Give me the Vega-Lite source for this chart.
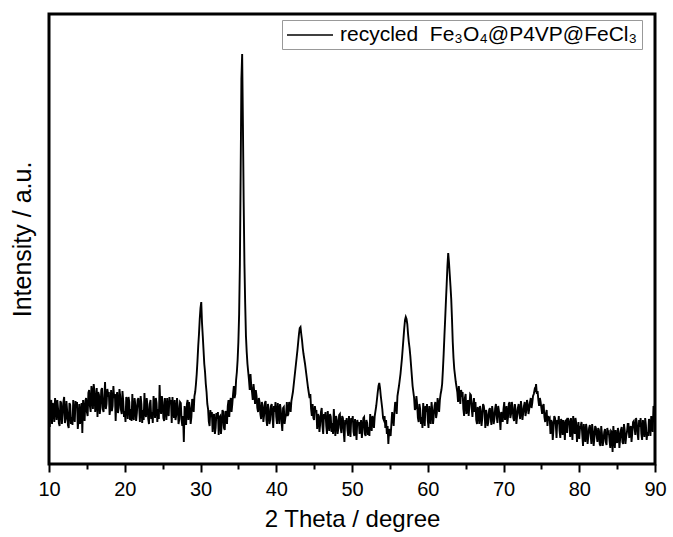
{
  "$schema": "https://vega.github.io/schema/vega-lite/v6.json",
  "width": 606,
  "height": 450,
  "autosize": "none",
  "padding": {"left": 49, "top": 14, "right": 18, "bottom": 73},
  "config": {
    "view": {"stroke": "black", "strokeWidth": 3},
    "font": "Liberation Sans",
    "background": "white"
  },
  "data": {"values": [
    {"x":10.0,"y":48},{"x":10.2,"y":62},{"x":10.4,"y":40},{"x":10.6,"y":57},{"x":10.8,"y":66},{"x":11.0,"y":44},{"x":11.2,"y":55},{"x":11.4,"y":38},{"x":11.6,"y":61},{"x":11.8,"y":50},
    {"x":12.0,"y":67},{"x":12.2,"y":45},{"x":12.4,"y":53},{"x":12.6,"y":36},{"x":12.8,"y":59},{"x":13.0,"y":47},{"x":13.2,"y":64},{"x":13.4,"y":42},{"x":13.6,"y":56},{"x":13.8,"y":35},
    {"x":14.0,"y":60},{"x":14.2,"y":49},{"x":14.4,"y":31},{"x":14.6,"y":54},{"x":14.8,"y":63},{"x":15.0,"y":52},{"x":15.2,"y":71},{"x":15.4,"y":58},{"x":15.6,"y":78},{"x":15.8,"y":55},
    {"x":16.0,"y":73},{"x":16.2,"y":61},{"x":16.4,"y":47},{"x":16.6,"y":69},{"x":16.8,"y":57},{"x":17.0,"y":76},{"x":17.2,"y":52},{"x":17.4,"y":82},{"x":17.6,"y":60},{"x":17.8,"y":70},
    {"x":18.0,"y":49},{"x":18.2,"y":74},{"x":18.4,"y":58},{"x":18.6,"y":66},{"x":18.8,"y":43},{"x":19.0,"y":72},{"x":19.2,"y":56},{"x":19.4,"y":68},{"x":19.6,"y":50},{"x":19.8,"y":63},
    {"x":20.0,"y":53},{"x":20.2,"y":67},{"x":20.4,"y":45},{"x":20.6,"y":62},{"x":20.8,"y":55},{"x":21.0,"y":70},{"x":21.2,"y":44},{"x":21.4,"y":59},{"x":21.6,"y":51},{"x":21.8,"y":66},
    {"x":22.0,"y":42},{"x":22.2,"y":60},{"x":22.4,"y":54},{"x":22.6,"y":71},{"x":22.8,"y":47},{"x":23.0,"y":58},{"x":23.2,"y":40},{"x":23.4,"y":64},{"x":23.6,"y":52},{"x":23.8,"y":68},
    {"x":24.0,"y":46},{"x":24.2,"y":61},{"x":24.4,"y":55},{"x":24.6,"y":79},{"x":24.8,"y":50},{"x":25.0,"y":62},{"x":25.2,"y":43},{"x":25.4,"y":57},{"x":25.6,"y":66},{"x":25.8,"y":48},
    {"x":26.0,"y":60},{"x":26.2,"y":41},{"x":26.4,"y":55},{"x":26.6,"y":64},{"x":26.8,"y":49},{"x":27.0,"y":58},{"x":27.2,"y":45},{"x":27.4,"y":61},{"x":27.6,"y":38},{"x":27.8,"y":22},
    {"x":28.0,"y":52},{"x":28.2,"y":60},{"x":28.4,"y":44},{"x":28.6,"y":56},{"x":28.8,"y":47},{"x":29.0,"y":63},{"x":29.2,"y":68},{"x":29.4,"y":80},{"x":29.5,"y":90},{"x":29.6,"y":103},
    {"x":29.7,"y":118},{"x":29.8,"y":130},{"x":29.9,"y":145},{"x":30.0,"y":156},{"x":30.1,"y":162},{"x":30.2,"y":141},{"x":30.3,"y":128},{"x":30.4,"y":114},{"x":30.5,"y":100},{"x":30.6,"y":92},
    {"x":30.7,"y":80},{"x":30.8,"y":72},{"x":31.0,"y":55},{"x":31.2,"y":38},{"x":31.4,"y":47},{"x":31.6,"y":32},{"x":31.8,"y":50},{"x":32.0,"y":36},{"x":32.2,"y":45},{"x":32.4,"y":29},
    {"x":32.6,"y":48},{"x":32.8,"y":39},{"x":33.0,"y":52},{"x":33.2,"y":34},{"x":33.4,"y":50},{"x":33.6,"y":58},{"x":33.8,"y":47},{"x":34.0,"y":66},{"x":34.2,"y":60},{"x":34.4,"y":78},
    {"x":34.6,"y":70},{"x":34.8,"y":92},{"x":34.9,"y":104},{"x":35.0,"y":122},{"x":35.1,"y":150},{"x":35.2,"y":200},{"x":35.3,"y":290},{"x":35.4,"y":385},{"x":35.5,"y":410},{"x":35.6,"y":340},
    {"x":35.7,"y":262},{"x":35.8,"y":200},{"x":35.9,"y":160},{"x":36.0,"y":128},{"x":36.1,"y":112},{"x":36.2,"y":100},{"x":36.3,"y":92},{"x":36.4,"y":84},{"x":36.6,"y":90},{"x":36.8,"y":72},
    {"x":37.0,"y":80},{"x":37.2,"y":60},{"x":37.4,"y":68},{"x":37.6,"y":52},{"x":37.8,"y":62},{"x":38.0,"y":45},{"x":38.2,"y":58},{"x":38.4,"y":49},{"x":38.6,"y":63},{"x":38.8,"y":38},
    {"x":39.0,"y":55},{"x":39.2,"y":44},{"x":39.4,"y":60},{"x":39.6,"y":36},{"x":39.8,"y":52},{"x":40.0,"y":47},{"x":40.2,"y":61},{"x":40.4,"y":40},{"x":40.6,"y":54},{"x":40.8,"y":33},
    {"x":41.0,"y":57},{"x":41.2,"y":46},{"x":41.4,"y":62},{"x":41.6,"y":50},{"x":41.8,"y":58},{"x":42.0,"y":63},{"x":42.2,"y":72},{"x":42.4,"y":86},{"x":42.6,"y":100},{"x":42.8,"y":114},
    {"x":42.9,"y":122},{"x":43.0,"y":130},{"x":43.1,"y":136},{"x":43.2,"y":137},{"x":43.3,"y":130},{"x":43.4,"y":124},{"x":43.5,"y":116},{"x":43.6,"y":110},{"x":43.8,"y":100},{"x":44.0,"y":88},
    {"x":44.2,"y":76},{"x":44.4,"y":66},{"x":44.6,"y":55},{"x":44.8,"y":60},{"x":45.0,"y":44},{"x":45.2,"y":52},{"x":45.4,"y":35},{"x":45.6,"y":48},{"x":45.8,"y":40},{"x":46.0,"y":56},
    {"x":46.2,"y":30},{"x":46.4,"y":45},{"x":46.6,"y":38},{"x":46.8,"y":53},{"x":47.0,"y":33},{"x":47.2,"y":47},{"x":47.4,"y":41},{"x":47.6,"y":55},{"x":47.8,"y":28},{"x":48.0,"y":44},
    {"x":48.2,"y":36},{"x":48.4,"y":50},{"x":48.6,"y":31},{"x":48.8,"y":46},{"x":49.0,"y":22},{"x":49.2,"y":40},{"x":49.4,"y":34},{"x":49.6,"y":48},{"x":49.8,"y":27},{"x":50.0,"y":42},
    {"x":50.2,"y":32},{"x":50.4,"y":45},{"x":50.6,"y":24},{"x":50.8,"y":39},{"x":51.0,"y":30},{"x":51.2,"y":44},{"x":51.4,"y":35},{"x":51.6,"y":47},{"x":51.8,"y":28},{"x":52.0,"y":41},
    {"x":52.2,"y":37},{"x":52.4,"y":50},{"x":52.6,"y":33},{"x":52.8,"y":45},{"x":53.0,"y":48},{"x":53.2,"y":58},{"x":53.4,"y":72},{"x":53.5,"y":78},{"x":53.6,"y":81},{"x":53.7,"y":76},
    {"x":53.8,"y":68},{"x":54.0,"y":55},{"x":54.2,"y":44},{"x":54.4,"y":36},{"x":54.6,"y":30},{"x":54.8,"y":20},{"x":55.0,"y":33},{"x":55.2,"y":40},{"x":55.4,"y":46},{"x":55.6,"y":52},
    {"x":55.8,"y":58},{"x":56.0,"y":68},{"x":56.2,"y":78},{"x":56.4,"y":90},{"x":56.6,"y":106},{"x":56.7,"y":116},{"x":56.8,"y":126},{"x":56.9,"y":136},{"x":57.0,"y":144},{"x":57.1,"y":147},
    {"x":57.2,"y":145},{"x":57.3,"y":140},{"x":57.4,"y":130},{"x":57.5,"y":122},{"x":57.6,"y":116},{"x":57.7,"y":108},{"x":57.9,"y":88},{"x":58.0,"y":78},{"x":58.2,"y":66},{"x":58.4,"y":56},
    {"x":58.6,"y":60},{"x":58.8,"y":42},{"x":59.0,"y":55},{"x":59.2,"y":47},{"x":59.4,"y":61},{"x":59.6,"y":38},{"x":59.8,"y":52},{"x":60.0,"y":44},{"x":60.2,"y":58},{"x":60.4,"y":40},
    {"x":60.6,"y":54},{"x":60.8,"y":49},{"x":61.0,"y":62},{"x":61.2,"y":51},{"x":61.4,"y":60},{"x":61.6,"y":64},{"x":61.8,"y":74},{"x":61.9,"y":80},{"x":62.0,"y":94},{"x":62.1,"y":110},
    {"x":62.2,"y":128},{"x":62.3,"y":145},{"x":62.4,"y":163},{"x":62.5,"y":180},{"x":62.6,"y":198},{"x":62.7,"y":211},{"x":62.8,"y":202},{"x":62.9,"y":190},{"x":63.0,"y":178},{"x":63.1,"y":165},
    {"x":63.2,"y":145},{"x":63.3,"y":122},{"x":63.4,"y":106},{"x":63.5,"y":95},{"x":63.7,"y":82},{"x":63.9,"y":72},{"x":64.1,"y":78},{"x":64.3,"y":60},{"x":64.5,"y":70},{"x":64.7,"y":55},
    {"x":64.9,"y":66},{"x":65.1,"y":50},{"x":65.3,"y":64},{"x":65.5,"y":58},{"x":65.7,"y":69},{"x":65.9,"y":47},{"x":66.0,"y":60},{"x":66.2,"y":52},{"x":66.4,"y":44},{"x":66.6,"y":57},
    {"x":66.8,"y":40},{"x":67.0,"y":53},{"x":67.2,"y":46},{"x":67.4,"y":58},{"x":67.6,"y":36},{"x":67.8,"y":50},{"x":68.0,"y":42},{"x":68.2,"y":56},{"x":68.4,"y":39},{"x":68.6,"y":52},
    {"x":68.8,"y":45},{"x":69.0,"y":60},{"x":69.2,"y":41},{"x":69.4,"y":53},{"x":69.6,"y":34},{"x":69.8,"y":49},{"x":70.0,"y":55},{"x":70.2,"y":44},{"x":70.4,"y":58},{"x":70.6,"y":47},
    {"x":70.8,"y":62},{"x":71.0,"y":50},{"x":71.2,"y":57},{"x":71.4,"y":43},{"x":71.6,"y":54},{"x":71.8,"y":48},{"x":72.0,"y":60},{"x":72.2,"y":45},{"x":72.4,"y":56},{"x":72.6,"y":51},
    {"x":72.8,"y":62},{"x":73.0,"y":53},{"x":73.2,"y":60},{"x":73.4,"y":55},{"x":73.6,"y":66},{"x":73.8,"y":61},{"x":74.0,"y":70},{"x":74.1,"y":74},{"x":74.2,"y":72},{"x":74.3,"y":80},
    {"x":74.4,"y":70},{"x":74.5,"y":73},{"x":74.6,"y":64},{"x":74.8,"y":66},{"x":75.0,"y":56},{"x":75.2,"y":58},{"x":75.4,"y":47},{"x":75.6,"y":50},{"x":75.8,"y":38},{"x":76.0,"y":45},
    {"x":76.2,"y":30},{"x":76.4,"y":42},{"x":76.6,"y":35},{"x":76.8,"y":46},{"x":77.0,"y":26},{"x":77.2,"y":40},{"x":77.4,"y":33},{"x":77.6,"y":45},{"x":77.8,"y":29},{"x":78.0,"y":38},
    {"x":78.2,"y":43},{"x":78.4,"y":31},{"x":78.6,"y":44},{"x":78.8,"y":27},{"x":79.0,"y":37},{"x":79.2,"y":48},{"x":79.4,"y":30},{"x":79.6,"y":41},{"x":79.8,"y":33},{"x":80.0,"y":25},
    {"x":80.2,"y":38},{"x":80.4,"y":29},{"x":80.6,"y":40},{"x":80.8,"y":22},{"x":81.0,"y":35},{"x":81.2,"y":28},{"x":81.4,"y":39},{"x":81.6,"y":20},{"x":81.8,"y":33},{"x":82.0,"y":26},
    {"x":82.2,"y":36},{"x":82.4,"y":22},{"x":82.6,"y":34},{"x":82.8,"y":18},{"x":83.0,"y":30},{"x":83.2,"y":24},{"x":83.4,"y":35},{"x":83.6,"y":19},{"x":83.8,"y":31},{"x":84.0,"y":23},
    {"x":84.2,"y":33},{"x":84.4,"y":12},{"x":84.6,"y":27},{"x":84.8,"y":34},{"x":85.0,"y":21},{"x":85.2,"y":32},{"x":85.4,"y":25},{"x":85.6,"y":37},{"x":85.8,"y":20},{"x":86.0,"y":34},
    {"x":86.2,"y":28},{"x":86.4,"y":40},{"x":86.6,"y":26},{"x":86.8,"y":38},{"x":87.0,"y":31},{"x":87.2,"y":43},{"x":87.4,"y":29},{"x":87.6,"y":41},{"x":87.8,"y":24},{"x":88.0,"y":37},
    {"x":88.2,"y":30},{"x":88.4,"y":44},{"x":88.6,"y":27},{"x":88.8,"y":39},{"x":89.0,"y":32},{"x":89.2,"y":45},{"x":89.4,"y":28},{"x":89.6,"y":40},{"x":89.8,"y":58},{"x":90.0,"y":62},
    {"x":10.1,"y":37},{"x":10.3,"y":64},{"x":10.5,"y":61},{"x":10.7,"y":42},{"x":10.9,"y":58},{"x":11.1,"y":64},{"x":11.3,"y":41},{"x":11.5,"y":63},{"x":11.7,"y":40},{"x":11.9,"y":62},
    {"x":12.1,"y":41},{"x":12.3,"y":63},{"x":12.5,"y":39},{"x":12.7,"y":61},{"x":12.9,"y":40},{"x":13.1,"y":39},{"x":13.3,"y":48},{"x":13.5,"y":63},{"x":13.7,"y":62},{"x":13.9,"y":44},
    {"x":14.1,"y":40},{"x":14.3,"y":61},{"x":14.5,"y":64},{"x":14.7,"y":43},{"x":14.9,"y":66},
    {"x":15.1,"y":48},{"x":15.3,"y":74},{"x":15.5,"y":52},{"x":15.7,"y":70},{"x":15.9,"y":80},{"x":16.1,"y":52},{"x":16.3,"y":76},{"x":16.5,"y":72},{"x":16.7,"y":50},{"x":16.9,"y":74},
    {"x":17.1,"y":55},{"x":17.3,"y":66},{"x":17.5,"y":55},{"x":17.7,"y":75},{"x":17.9,"y":72},{"x":18.1,"y":56},{"x":18.3,"y":53},{"x":18.5,"y":78},{"x":18.7,"y":70},{"x":18.9,"y":66},
    {"x":19.1,"y":51},{"x":19.3,"y":75},{"x":19.5,"y":54},{"x":19.7,"y":73},{"x":19.9,"y":47},
    {"x":20.1,"y":42},{"x":20.3,"y":63},{"x":20.5,"y":67},{"x":20.7,"y":44},{"x":20.9,"y":43},{"x":21.1,"y":48},{"x":21.3,"y":66},{"x":21.5,"y":43},{"x":21.7,"y":64},{"x":21.9,"y":57},
    {"x":22.1,"y":68},{"x":22.3,"y":41},{"x":22.5,"y":44},{"x":22.7,"y":52},{"x":22.9,"y":66},{"x":23.1,"y":45},{"x":23.3,"y":60},{"x":23.5,"y":45},{"x":23.7,"y":41},{"x":23.9,"y":60},
    {"x":24.1,"y":66},{"x":24.3,"y":42},{"x":24.5,"y":45},{"x":24.7,"y":58},{"x":24.9,"y":68},{"x":25.1,"y":46},{"x":25.3,"y":66},{"x":25.5,"y":44},{"x":25.7,"y":53},{"x":25.9,"y":67},
    {"x":26.1,"y":64},{"x":26.3,"y":67},{"x":26.5,"y":46},{"x":26.7,"y":44},{"x":26.9,"y":66},
    {"x":27.1,"y":40},{"x":27.3,"y":62},{"x":27.5,"y":44},{"x":27.7,"y":48},{"x":27.9,"y":58},{"x":28.1,"y":39},{"x":28.3,"y":64},{"x":28.5,"y":62},{"x":28.7,"y":40},{"x":28.9,"y":65},
    {"x":29.1,"y":52},{"x":29.3,"y":72},
    {"x":30.9,"y":60},{"x":31.1,"y":42},{"x":31.3,"y":54},{"x":31.5,"y":52},{"x":31.7,"y":48},{"x":31.9,"y":30},{"x":32.1,"y":51},{"x":32.3,"y":52},{"x":32.5,"y":47},{"x":32.7,"y":30},
    {"x":32.9,"y":54},{"x":33.1,"y":36},{"x":33.3,"y":53},{"x":33.5,"y":40},{"x":33.7,"y":64},{"x":33.9,"y":62},{"x":34.1,"y":52},{"x":34.3,"y":70},{"x":34.5,"y":66},{"x":34.7,"y":84},
    {"x":36.5,"y":74},{"x":36.7,"y":78},{"x":36.9,"y":64},{"x":37.1,"y":72},{"x":37.3,"y":74},{"x":37.5,"y":56},{"x":37.7,"y":66},{"x":37.9,"y":50},{"x":38.1,"y":62},{"x":38.3,"y":42},
    {"x":38.5,"y":61},{"x":38.7,"y":44},{"x":38.9,"y":60},{"x":39.1,"y":40},{"x":39.3,"y":58},{"x":39.5,"y":48},{"x":39.7,"y":58},{"x":39.9,"y":62},{"x":40.1,"y":40},{"x":40.3,"y":52},
    {"x":40.5,"y":60},{"x":40.7,"y":42},{"x":40.9,"y":56},{"x":41.1,"y":40},{"x":41.3,"y":50},{"x":41.5,"y":48},{"x":41.7,"y":62},{"x":41.9,"y":52},
    {"x":44.5,"y":70},{"x":44.7,"y":48},{"x":44.9,"y":46},{"x":45.1,"y":58},{"x":45.3,"y":54},{"x":45.5,"y":50},{"x":45.7,"y":32},{"x":45.9,"y":52},{"x":46.1,"y":38},{"x":46.3,"y":50},
    {"x":46.5,"y":52},{"x":46.7,"y":30},{"x":46.9,"y":42},{"x":47.1,"y":50},{"x":47.3,"y":32},{"x":47.5,"y":30},{"x":47.7,"y":42},{"x":47.9,"y":48},{"x":48.1,"y":30},{"x":48.3,"y":49},
    {"x":48.5,"y":36},{"x":48.7,"y":48},{"x":48.9,"y":33},{"x":49.1,"y":44},{"x":49.3,"y":46},{"x":49.5,"y":28},{"x":49.7,"y":38},{"x":49.9,"y":46},{"x":50.1,"y":48},{"x":50.3,"y":28},
    {"x":50.5,"y":36},{"x":50.7,"y":44},{"x":50.9,"y":42},{"x":51.1,"y":38},{"x":51.3,"y":26},{"x":51.5,"y":46},{"x":51.7,"y":30},{"x":51.9,"y":44},{"x":52.1,"y":29},{"x":52.3,"y":28},
    {"x":52.5,"y":41},{"x":52.7,"y":48},{"x":52.9,"y":36},
    {"x":54.1,"y":46},{"x":54.3,"y":48},{"x":54.5,"y":44},{"x":54.7,"y":38},{"x":54.9,"y":35},{"x":55.1,"y":28},{"x":55.3,"y":52},{"x":55.5,"y":38},{"x":55.7,"y":62},{"x":55.9,"y":50},
    {"x":58.3,"y":54},{"x":58.5,"y":68},{"x":58.7,"y":46},{"x":58.9,"y":60},{"x":59.1,"y":40},{"x":59.3,"y":36},{"x":59.5,"y":50},{"x":59.7,"y":58},{"x":59.9,"y":60},{"x":60.1,"y":36},
    {"x":60.3,"y":46},{"x":60.5,"y":62},{"x":60.7,"y":40},{"x":60.9,"y":58},{"x":61.1,"y":46},{"x":61.3,"y":66},{"x":61.5,"y":52},{"x":61.7,"y":70},
    {"x":64.0,"y":62},{"x":64.2,"y":68},{"x":64.4,"y":74},{"x":64.6,"y":72},{"x":64.8,"y":48},{"x":65.0,"y":70},{"x":65.2,"y":56},{"x":65.4,"y":48},{"x":65.6,"y":70},{"x":65.8,"y":56},
    {"x":66.1,"y":66},{"x":66.3,"y":62},{"x":66.5,"y":40},{"x":66.7,"y":52},{"x":66.9,"y":58},{"x":67.1,"y":38},{"x":67.3,"y":60},{"x":67.5,"y":52},{"x":67.7,"y":54},{"x":67.9,"y":38},
    {"x":68.1,"y":54},{"x":68.3,"y":46},{"x":68.5,"y":58},{"x":68.7,"y":40},{"x":68.9,"y":56},{"x":69.1,"y":48},{"x":69.3,"y":58},{"x":69.5,"y":46},{"x":69.7,"y":52},{"x":69.9,"y":42},
    {"x":70.1,"y":62},{"x":70.3,"y":50},{"x":70.5,"y":40},{"x":70.7,"y":60},{"x":70.9,"y":46},{"x":71.1,"y":62},{"x":71.3,"y":46},{"x":71.5,"y":60},{"x":71.7,"y":40},{"x":71.9,"y":56},
    {"x":72.1,"y":50},{"x":72.3,"y":63},{"x":72.5,"y":44},{"x":72.7,"y":58},{"x":72.9,"y":48},{"x":73.1,"y":64},{"x":73.3,"y":50},{"x":73.5,"y":62},{"x":73.7,"y":56},{"x":73.9,"y":68},
    {"x":74.7,"y":58},{"x":74.9,"y":62},{"x":75.1,"y":50},{"x":75.3,"y":60},{"x":75.5,"y":42},{"x":75.7,"y":54},{"x":75.9,"y":48},
    {"x":76.1,"y":46},{"x":76.3,"y":44},{"x":76.5,"y":24},{"x":76.7,"y":48},{"x":76.9,"y":40},{"x":77.1,"y":44},{"x":77.3,"y":48},{"x":77.5,"y":26},{"x":77.7,"y":42},{"x":77.9,"y":44},
    {"x":78.1,"y":24},{"x":78.3,"y":44},{"x":78.5,"y":46},{"x":78.7,"y":40},{"x":78.9,"y":46},{"x":79.1,"y":24},{"x":79.3,"y":38},{"x":79.5,"y":46},{"x":79.7,"y":22},{"x":79.9,"y":42},
    {"x":80.1,"y":36},{"x":80.3,"y":42},{"x":80.5,"y":18},{"x":80.7,"y":30},{"x":80.9,"y":40},{"x":81.1,"y":20},{"x":81.3,"y":36},{"x":81.5,"y":30},{"x":81.7,"y":40},{"x":81.9,"y":18},
    {"x":82.1,"y":38},{"x":82.3,"y":28},{"x":82.5,"y":36},{"x":82.7,"y":20},{"x":82.9,"y":38},{"x":83.1,"y":18},{"x":83.3,"y":32},{"x":83.5,"y":22},{"x":83.7,"y":36},{"x":83.9,"y":32},
    {"x":84.1,"y":16},{"x":84.3,"y":32},{"x":84.5,"y":38},{"x":84.7,"y":16},{"x":84.9,"y":24},{"x":85.1,"y":36},{"x":85.3,"y":16},{"x":85.5,"y":34},{"x":85.7,"y":22},{"x":85.9,"y":40},
    {"x":86.1,"y":20},{"x":86.3,"y":32},{"x":86.5,"y":40},{"x":86.7,"y":34},{"x":86.9,"y":22},{"x":87.1,"y":42},{"x":87.3,"y":36},{"x":87.5,"y":46},{"x":87.7,"y":30},{"x":87.9,"y":44},
    {"x":88.1,"y":46},{"x":88.3,"y":24},{"x":88.5,"y":38},{"x":88.7,"y":46},{"x":88.9,"y":24},{"x":89.1,"y":28},{"x":89.3,"y":42},{"x":89.5,"y":48},{"x":89.7,"y":32},{"x":89.9,"y":50}
  ]},
  "mark": {"type": "line", "strokeWidth": 1.9, "interpolate": "linear"},
  "encoding": {
    "x": {
      "field": "x", "type": "quantitative",
      "scale": {"domain": [10, 90], "nice": false, "zero": false},
      "axis": {
        "title": "2 Theta / degree",
        "values": [10,15,20,25,30,35,40,45,50,55,60,65,70,75,80,85,90],
        "labelExpr": "datum.value % 10 === 0 ? datum.label : ''",
        "tickSize": {"condition": {"test": "datum.value % 10 === 0", "value": 8}, "value": 5},
        "tickWidth": 2,
        "tickColor": "black",
        "domain": false,
        "grid": false,
        "labelFontSize": 20,
        "labelColor": "black",
        "labelPadding": 7,
        "labelFlush": false,
        "titleFontSize": 24,
        "titleFontWeight": "normal",
        "titleColor": "black",
        "titlePadding": 8
      }
    },
    "y": {
      "field": "y", "type": "quantitative",
      "scale": {"domain": [0, 450], "nice": false},
      "axis": {
        "title": "Intensity / a.u.",
        "labels": false, "ticks": false, "domain": false, "grid": false,
        "titleFontSize": 25, "titleFontWeight": "normal", "titleColor": "black",
        "titlePadding": 14
      }
    },
    "color": {
      "datum": "recycled\u00a0 Fe₃O₄@P4VP@FeCl₃",
      "type": "nominal",
      "scale": {"range": ["black"]},
      "legend": {
        "title": null,
        "orient": "none",
        "legendX": 233,
        "legendY": 6,
        "symbolType": "M-1,0L3.6,0",
        "symbolSize": 400,
        "symbolStrokeWidth": 1.5,
        "symbolFillColor": "transparent",
        "labelOffset": 32,
        "strokeColor": "#999999",
        "padding": 4,
        "labelFontSize": 21,
        "labelColor": "black",
        "labelLimit": 400
      }
    }
  }
}
